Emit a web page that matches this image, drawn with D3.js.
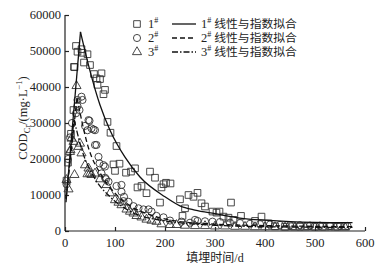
<!DOCTYPE html>
<html>
<head>
<meta charset="utf-8">
<script src="https://cdn.jsdelivr.net/npm/d3@7"></script>
<style>
  body { margin: 0; background: #fff; }
  text { font-family: "Liberation Serif", "Noto Sans CJK SC", serif; fill: #222; }
</style>
</head>
<body>
<div id="chart"></div>
<script>
// measured points, [day, COD mg/L]
var series1 = [
  [3, 14000], [6, 19000], [12, 27000], [17, 33600], [19, 45500], [18, 45600],
  [22, 51400], [25, 49800], [33, 50500], [35, 49500], [38, 46800], [45, 49100],
  [50, 46100], [58, 43600], [63, 42400], [65, 40600], [70, 42200], [73, 43800],
  [77, 38000], [80, 39200], [85, 30300], [91, 27300], [97, 18500], [100, 16700],
  [103, 23600], [109, 18700], [122, 16200], [132, 16500], [140, 17400], [145, 12100],
  [153, 12500], [163, 10500], [170, 16500], [180, 14800], [190, 7900], [193, 12100],
  [197, 13000], [202, 13400], [211, 13200], [230, 8800], [235, 4200], [240, 6300],
  [247, 10000], [257, 9500], [265, 10600], [273, 7700], [280, 6800], [295, 5400],
  [303, 5100], [309, 5400], [317, 4000], [327, 3700], [332, 7900], [337, 3100],
  [352, 4200], [380, 2800], [393, 4000], [407, 2100], [420, 1300], [440, 1200],
  [455, 1300], [470, 1200], [485, 1300], [500, 1200], [515, 1200], [530, 1300],
  [545, 1200], [560, 1300]
];
var series2 = [
  [3, 13000], [6, 20000], [10, 26000], [14, 30000], [22, 32700], [25, 36400],
  [25, 34700], [29, 33600], [33, 37300], [35, 36400], [40, 29200], [45, 28000],
  [47, 30800], [49, 30600], [53, 28500], [57, 28200], [60, 28000], [60, 23900],
  [63, 23900], [67, 20600], [69, 18800], [73, 16000], [77, 18300], [80, 17900],
  [80, 14800], [82, 14400], [87, 13700], [103, 12500], [113, 12800], [113, 10900],
  [117, 8300], [118, 9500], [127, 8100], [137, 6900], [147, 6300], [157, 6000],
  [167, 6000], [173, 5400], [183, 4200], [197, 3800], [210, 2900], [233, 2600],
  [250, 2300], [260, 3100], [265, 2800], [280, 2700], [295, 2600], [310, 2500],
  [330, 2300], [350, 2200], [370, 2000], [390, 1900], [410, 1800], [430, 1700],
  [450, 1600], [470, 1600], [490, 1500], [510, 1500], [530, 1400], [550, 1400],
  [565, 1400]
];
var series3 = [
  [3, 14200], [7, 11600], [10, 22000], [11, 22500], [13, 25700], [17, 24800],
  [19, 15600], [23, 40300], [27, 23400], [30, 24300], [33, 21600], [40, 18300],
  [45, 15800], [47, 17400], [50, 16000], [53, 15600], [60, 16000], [70, 14400],
  [83, 12800], [90, 10500], [100, 8600], [107, 7900], [113, 7200], [123, 6000],
  [130, 5400], [137, 4900], [143, 4200], [153, 3800], [163, 3200], [173, 2900],
  [183, 2600], [193, 1900], [210, 1700], [223, 1700], [240, 1500], [260, 1400],
  [280, 1400], [300, 1300], [320, 1300], [340, 1200], [360, 1200], [380, 1100],
  [400, 1100], [420, 1100], [440, 1000], [460, 1000], [480, 1000], [500, 1000],
  [520, 1000], [540, 1000], [560, 1000]
];

// fitted curves: linear rise, then exponential decay
var fit1Rise = [[2, 8000], [31, 55300]];
var fit1Decay = [[31, 55300], [50, 44500], [70, 35000], [90, 28000], [120, 20500],
  [150, 15000], [200, 9500], [230, 7000], [260, 5800], [300, 4800], [350, 3600],
  [400, 3000], [450, 2600], [500, 2400], [575, 2300]];
var fit2Rise = [[2, 9000], [24, 37000]];
var fit2Decay = [[24, 37000], [45, 24000], [75, 15000], [100, 10500], [130, 7000],
  [170, 4500], [220, 2800], [300, 1900], [400, 1500], [500, 1300], [575, 1200]];
var fit3Rise = [[2, 9000], [18, 31000]];
var fit3Decay = [[18, 31000], [35, 22000], [60, 14500], [90, 9500], [130, 5500],
  [200, 2800], [300, 1600], [400, 1200], [500, 1050], [575, 1000]];

var xTicks = [0, 100, 200, 300, 400, 500, 600];
var yTicks = [0, 10000, 20000, 30000, 40000, 50000, 60000];
var legendNames = ["1", "2", "3"];

var width = 384, height = 271;

var x = d3.scaleLinear().domain([0, 600]).range([65, 365]);
var y = d3.scaleLinear().domain([0, 60000]).range([231, 15]);

var svg = d3.select("#chart").append("svg")
  .attr("width", width)
  .attr("height", height);

// axes, ticks pointing inward
var xAxis = svg.append("g")
  .attr("transform", "translate(0," + y(0) + ")")
  .call(d3.axisTop(x).tickValues(xTicks).tickSize(4).tickFormat(""));
xAxis.select(".domain").attr("d", "M" + x(0) + ",0H" + x(600));

var yAxis = svg.append("g")
  .attr("transform", "translate(" + x(0) + ",0)")
  .call(d3.axisRight(y).tickValues(yTicks).tickSize(4).tickFormat(""));
yAxis.select(".domain").attr("d", "M0," + y(60000) + "V" + y(0));

svg.selectAll(".domain, .tick line").attr("stroke", "#222").attr("stroke-width", 1.2);

svg.append("g").selectAll("text")
  .data(xTicks)
  .enter().append("text")
  .attr("x", function(d) { return x(d); })
  .attr("y", 247)
  .attr("text-anchor", "middle")
  .style("font-size", "12.5px")
  .text(function(d) { return d; });

svg.append("g").selectAll("text")
  .data(yTicks)
  .enter().append("text")
  .attr("x", 61)
  .attr("y", function(d) { return y(d) + 4; })
  .attr("text-anchor", "end")
  .style("font-size", "12.5px")
  .text(function(d) { return d; });

// axis titles
svg.append("text")
  .attr("x", 215)
  .attr("y", 262)
  .attr("text-anchor", "middle")
  .style("font-size", "12px")
  .text("填埋时间/d");

var ylab = svg.append("text")
  .attr("transform", "translate(27,118) rotate(-90)")
  .attr("text-anchor", "middle")
  .style("font-size", "12.5px");
ylab.append("tspan").text("COD");
ylab.append("tspan").attr("dy", 3).style("font-size", "8.5px").text("Cr");
ylab.append("tspan").attr("dy", -3).text("/(mg·L");
ylab.append("tspan").attr("dy", -5).style("font-size", "8.5px").text("−1");
ylab.append("tspan").attr("dy", 5).text(")");

// markers
var sym = {
  square: d3.symbol().type(d3.symbolSquare).size(44),
  circle: d3.symbol().type(d3.symbolCircle).size(40),
  triangle: d3.symbol().type(d3.symbolTriangle).size(36)
};

function drawPoints(data, shape) {
  svg.append("g").selectAll("path")
    .data(data)
    .enter().append("path")
    .attr("d", sym[shape])
    .attr("transform", function(d) { return "translate(" + x(d[0]) + "," + y(d[1]) + ")"; })
    .attr("fill", "none")
    .attr("stroke", "#333")
    .attr("stroke-width", 0.9);
}
drawPoints(series1, "square");
drawPoints(series2, "circle");
drawPoints(series3, "triangle");

// fitted lines
var lineStraight = d3.line()
  .x(function(d) { return x(d[0]); })
  .y(function(d) { return y(d[1]); });
var lineSmooth = d3.line()
  .curve(d3.curveMonotoneX)
  .x(function(d) { return x(d[0]); })
  .y(function(d) { return y(d[1]); });

var fits = [
  { rise: fit1Rise, decay: fit1Decay, dash: null },
  { rise: fit2Rise, decay: fit2Decay, dash: "5,3" },
  { rise: fit3Rise, decay: fit3Decay, dash: "6,2,1.5,2" }
];
fits.forEach(function(f) {
  [[f.rise, lineStraight], [f.decay, lineSmooth]].forEach(function(p) {
    svg.append("path")
      .attr("d", p[1](p[0]))
      .attr("fill", "none")
      .attr("stroke", "#111")
      .attr("stroke-width", 1.3)
      .attr("stroke-dasharray", f.dash);
  });
});

// legend
var legendShapes = ["square", "circle", "triangle"];
var legend = svg.append("g").selectAll("g")
  .data(legendNames)
  .enter().append("g")
  .attr("transform", function(d, i) { return "translate(0," + (24 + i * 14) + ")"; });

legend.append("path")
  .attr("d", function(d, i) { return sym[legendShapes[i]](); })
  .attr("transform", "translate(137,0)")
  .attr("fill", "none")
  .attr("stroke", "#333")
  .attr("stroke-width", 0.9);

var lt = legend.append("text")
  .attr("x", 148)
  .attr("y", 4)
  .style("font-size", "12.5px");
lt.append("tspan").text(function(d) { return d; });
lt.append("tspan").attr("dy", -5).style("font-size", "8px").text("#");

legend.append("line")
  .attr("x1", 172).attr("x2", 196)
  .attr("stroke", "#111")
  .attr("stroke-width", 1.3)
  .attr("stroke-dasharray", function(d, i) { return fits[i].dash; });

var lt2 = legend.append("text")
  .attr("x", 201)
  .attr("y", 4)
  .style("font-size", "12.5px");
lt2.append("tspan").text(function(d) { return d; });
lt2.append("tspan").attr("dy", -5).style("font-size", "8px").text("#");
lt2.append("tspan").attr("dy", 5).attr("dx", 3).style("font-size", "11.8px").text("线性与指数拟合");
</script>
</body>
</html>
